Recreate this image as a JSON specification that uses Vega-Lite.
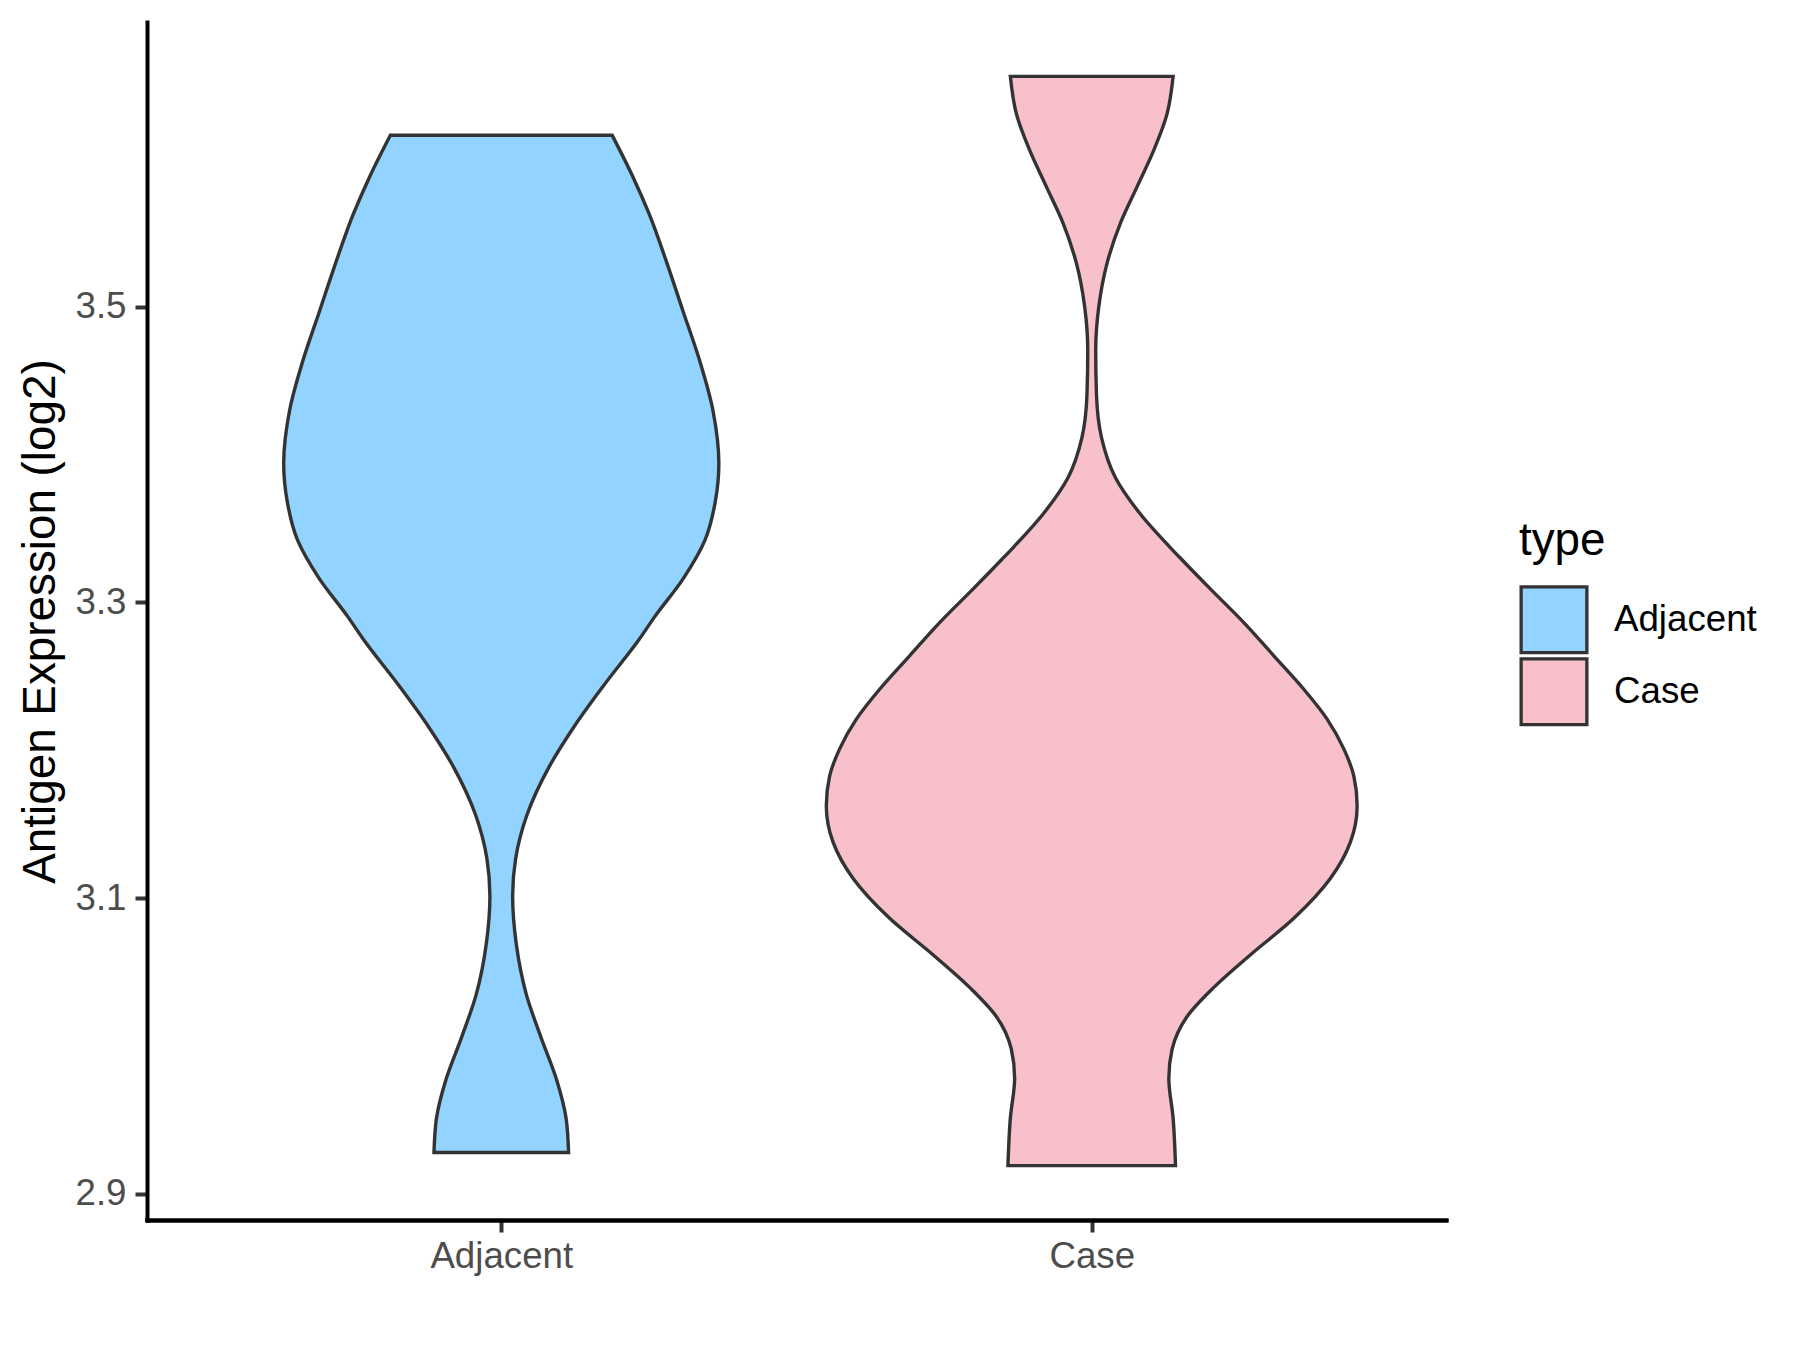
{
  "$schema": "https://vega.github.io/schema/vega-lite/v6.json",
  "autosize": {"type": "none"},
  "width": 1299,
  "height": 1198,
  "padding": {"left": 147, "top": 22, "right": 354, "bottom": 130},
  "background": "white",
  "config": {
    "font": "Liberation Sans",
    "view": {"stroke": null},
    "axis": {
      "grid": false,
      "domainColor": "#000000",
      "domainWidth": 4,
      "domainCap": "square",
      "tickColor": "#333333",
      "tickWidth": 4,
      "tickSize": 12,
      "labelColor": "#4D4D4D",
      "labelFontSize": 36.7,
      "labelFont": "Liberation Sans",
      "titleFont": "Liberation Sans",
      "titleFontWeight": "normal",
      "titleColor": "#000000",
      "titleFontSize": 45.8
    },
    "legend": {
      "titleFont": "Liberation Sans",
      "titleFontSize": 45.8,
      "titleFontWeight": "normal",
      "titleColor": "#000000",
      "labelFont": "Liberation Sans",
      "labelFontSize": 36.7,
      "labelColor": "#000000"
    }
  },
  "data": {
    "values": [
      {"type": "Adjacent", "value": 2.9279, "density": 0.228},
      {"type": "Adjacent", "value": 2.9507, "density": 0.2198},
      {"type": "Adjacent", "value": 2.9781, "density": 0.1859},
      {"type": "Adjacent", "value": 3.0055, "density": 0.1351},
      {"type": "Adjacent", "value": 3.0352, "density": 0.0843},
      {"type": "Adjacent", "value": 3.0694, "density": 0.0505},
      {"type": "Adjacent", "value": 3.1014, "density": 0.0385},
      {"type": "Adjacent", "value": 3.1266, "density": 0.0486},
      {"type": "Adjacent", "value": 3.1563, "density": 0.0872},
      {"type": "Adjacent", "value": 3.1882, "density": 0.1606},
      {"type": "Adjacent", "value": 3.2157, "density": 0.2459},
      {"type": "Adjacent", "value": 3.2431, "density": 0.3445},
      {"type": "Adjacent", "value": 3.275, "density": 0.4673},
      {"type": "Adjacent", "value": 3.2903, "density": 0.52},
      {"type": "Adjacent", "value": 3.3162, "density": 0.617},
      {"type": "Adjacent", "value": 3.342, "density": 0.69},
      {"type": "Adjacent", "value": 3.3679, "density": 0.7248},
      {"type": "Adjacent", "value": 3.3938, "density": 0.737},
      {"type": "Adjacent", "value": 3.43, "density": 0.7167},
      {"type": "Adjacent", "value": 3.4636, "density": 0.6716},
      {"type": "Adjacent", "value": 3.4972, "density": 0.6151},
      {"type": "Adjacent", "value": 3.5309, "density": 0.5585},
      {"type": "Adjacent", "value": 3.5619, "density": 0.5023},
      {"type": "Adjacent", "value": 3.5878, "density": 0.4457},
      {"type": "Adjacent", "value": 3.6158, "density": 0.3756},
      {"type": "Case", "value": 2.9191, "density": 0.2838},
      {"type": "Case", "value": 2.9511, "density": 0.2757},
      {"type": "Case", "value": 2.9782, "density": 0.2611},
      {"type": "Case", "value": 2.9978, "density": 0.2723},
      {"type": "Case", "value": 3.0199, "density": 0.3231},
      {"type": "Case", "value": 3.0396, "density": 0.4136},
      {"type": "Case", "value": 3.0617, "density": 0.5378},
      {"type": "Case", "value": 3.0863, "density": 0.6845},
      {"type": "Case", "value": 3.1134, "density": 0.8088},
      {"type": "Case", "value": 3.138, "density": 0.8765},
      {"type": "Case", "value": 3.1623, "density": 0.899},
      {"type": "Case", "value": 3.1826, "density": 0.8877},
      {"type": "Case", "value": 3.2007, "density": 0.8542},
      {"type": "Case", "value": 3.221, "density": 0.7973},
      {"type": "Case", "value": 3.2412, "density": 0.7184},
      {"type": "Case", "value": 3.2638, "density": 0.6168},
      {"type": "Case", "value": 3.2863, "density": 0.5152},
      {"type": "Case", "value": 3.3089, "density": 0.4024},
      {"type": "Case", "value": 3.3291, "density": 0.304},
      {"type": "Case", "value": 3.3377, "density": 0.263},
      {"type": "Case", "value": 3.3599, "density": 0.164},
      {"type": "Case", "value": 3.3844, "density": 0.08},
      {"type": "Case", "value": 3.4115, "density": 0.033},
      {"type": "Case", "value": 3.441, "density": 0.016},
      {"type": "Case", "value": 3.4705, "density": 0.0135},
      {"type": "Case", "value": 3.5, "density": 0.024},
      {"type": "Case", "value": 3.5295, "density": 0.0522},
      {"type": "Case", "value": 3.5566, "density": 0.0975},
      {"type": "Case", "value": 3.5811, "density": 0.1538},
      {"type": "Case", "value": 3.6057, "density": 0.2103},
      {"type": "Case", "value": 3.6304, "density": 0.2554},
      {"type": "Case", "value": 3.6556, "density": 0.2757}
    ]
  },
  "layer": [
    {
      "transform": [{"filter": "datum.type === 'Adjacent'"}],
      "mark": {"type": "area", "orient": "horizontal", "interpolate": "monotone", "stroke": "#333333", "strokeWidth": 3.4, "opacity": 1},
      "encoding": {
        "y": {
          "field": "value", "type": "quantitative",
          "scale": {"domain": [2.8823, 3.6924], "nice": false, "zero": false},
          "axis": {"values": [2.9, 3.1, 3.3, 3.5], "format": ".1f", "labelPadding": 9, "title": "Antigen Expression (log2)", "titleAngle": 270, "titleX": -107, "titleY": 599, "titleAlign": "center", "titleBaseline": "middle"}
        },
        "x": {
          "field": "density", "type": "quantitative", "stack": "center",
          "scale": {"domain": [-0.2315, 1.9685], "nice": false, "zero": false},
          "axis": {"orient": "bottom", "values": [0.3685], "labelExpr": "'Adjacent'", "title": null, "labelPadding": 6}
        },
        "color": {
          "field": "type", "type": "nominal",
          "scale": {"domain": ["Adjacent", "Case"], "range": ["#92D3FF", "#F7C0CB"]},
          "legend": {"title": "type", "orient": "none", "legendX": 1372, "legendY": 497, "padding": 0, "symbolType": "square", "symbolSize": 4320, "symbolStrokeColor": "#333333", "symbolStrokeWidth": 3.3, "symbolOpacity": 1, "clipHeight": 72, "rowPadding": 0, "titlePadding": 19, "labelOffset": 25}
        }
      }
    },
    {
      "transform": [{"filter": "datum.type === 'Case'"}],
      "mark": {"type": "area", "orient": "horizontal", "interpolate": "monotone", "stroke": "#333333", "strokeWidth": 3.4, "opacity": 1},
      "encoding": {
        "y": {
          "field": "value", "type": "quantitative",
          "scale": {"domain": [2.8823, 3.6924], "nice": false, "zero": false}
        },
        "x": {
          "field": "density", "type": "quantitative", "stack": "center",
          "scale": {"domain": [-1.1505, 1.0495], "nice": false, "zero": false},
          "axis": {"orient": "bottom", "values": [0.4495], "labelExpr": "'Case'", "title": null, "labelPadding": 6}
        },
        "color": {"field": "type", "type": "nominal"}
      }
    }
  ],
  "resolve": {"scale": {"x": "independent"}, "axis": {"x": "independent"}}
}
